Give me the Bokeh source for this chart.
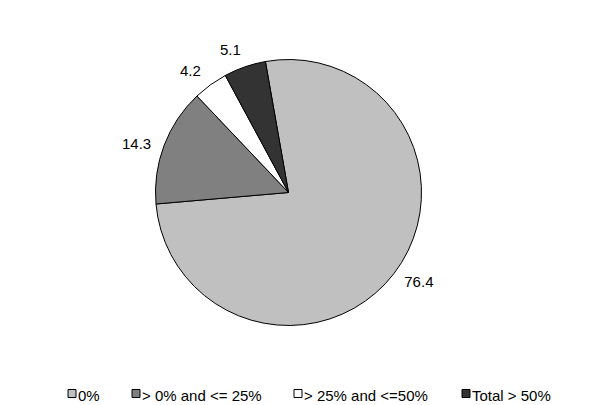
import math
from bokeh.plotting import figure
from bokeh.models import Range1d, ColumnDataSource
from bokeh.core.properties import value
from bokeh.embed import file_html
from bokeh.resources import INLINE

# ---- data ----
categories = ["0%", "> 0% and <= 25%", "> 25% and <=50%", "Total > 50%"]
values = [76.4, 14.3, 4.2, 5.1]
labels = ["76.4", "14.3", "4.2", "5.1"]
colors = ["#C0C0C0", "#808080", "#FFFFFF", "#333333"]

W, H = 607, 405

def py(y):  # page pixel y -> data y
    return H - y

p = figure(width=W, height=H, output_backend="svg", toolbar_location=None,
           x_range=Range1d(0, W), y_range=Range1d(0, H),
           min_border=0)
p.axis.visible = False
p.grid.visible = False
p.outline_line_color = None
p.background_fill_color = "white"
p.border_fill_color = "white"

cx, cy, r = 288, py(192), 133
first_angle = -10.0  # degrees clockwise from 12 o'clock
total = sum(values)

starts, ends, lx, ly = [], [], [], []
acc = first_angle
for v in values:
    a0 = acc
    a1 = acc + v / total * 360.0
    m0 = math.radians(90 - a0)
    m1 = math.radians(90 - a1)
    starts.append(m1)
    ends.append(m0)
    mid = (a0 + a1) / 2 - 3.0
    rl = 150 + 10 * abs(math.sin(math.radians(mid)))
    lx.append(cx + rl * math.sin(math.radians(mid)))
    ly.append(cy + rl * math.cos(math.radians(mid)))
    acc = a1

src = ColumnDataSource(dict(start=starts, end=ends, color=colors))
p.wedge(x=cx, y=cy, radius=r, start_angle="start", end_angle="end",
        direction="anticlock", fill_color="color", line_color="black",
        line_width=1, source=src)

p.text(x=lx, y=ly, text=labels, text_font=value("Liberation Sans"),
       text_font_size="15px", text_align="center", text_baseline="middle",
       text_color="black")

# legend
leg_x = [71.5, 135.5, 297.5, 465.5]
leg_y = py(393)
p.rect(x=leg_x, y=leg_y, width=8, height=8, fill_color=colors,
       line_color="black", line_width=1)
p.text(x=[x + 6 for x in leg_x], y=py(394.5), text=categories,
       text_font=value("Liberation Sans"), text_font_size="15px",
       text_align="left", text_baseline="middle", text_color="black")

open("out.html", "w").write(file_html(p, INLINE))
